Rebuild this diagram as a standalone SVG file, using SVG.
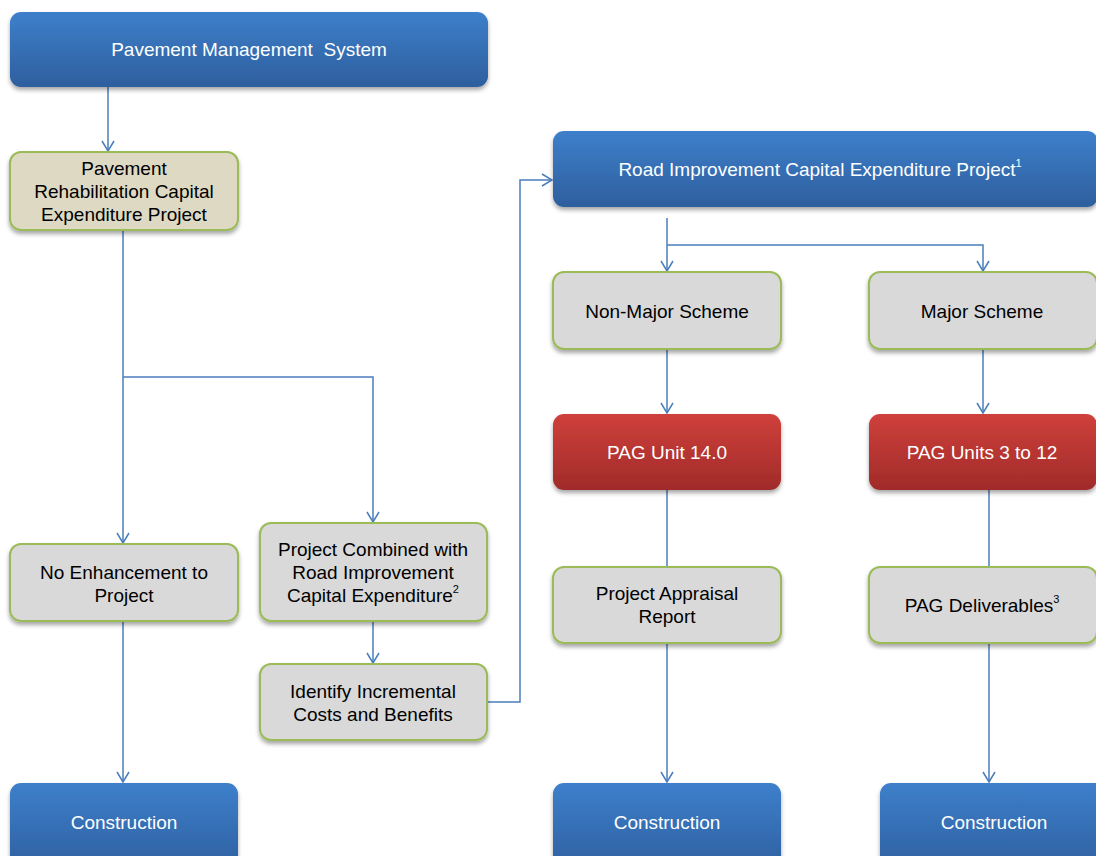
<svg xmlns="http://www.w3.org/2000/svg" width="1096" height="856" viewBox="0 0 1096 856">
<defs>
<linearGradient id="gBlue" x1="0" y1="0" x2="0" y2="1">
<stop offset="0" stop-color="#3d7fcb"/><stop offset="1" stop-color="#2e5f9e"/>
</linearGradient>
<linearGradient id="gRed" x1="0" y1="0" x2="0" y2="1">
<stop offset="0" stop-color="#cf403b"/><stop offset="1" stop-color="#a02b29"/>
</linearGradient>
<filter id="sh" x="-10%" y="-20%" width="120%" height="150%">
<feDropShadow dx="0" dy="3" stdDeviation="2.2" flood-color="#000" flood-opacity="0.35"/>
</filter>
<marker id="arr" viewBox="0 0 12 14" refX="11" refY="7" markerWidth="12" markerHeight="14" markerUnits="userSpaceOnUse" orient="auto">
<path d="M1,1 L11,7 L1,13" fill="none" stroke="#4a7ebb" stroke-width="1.5"/>
</marker>
</defs>
<style>
.blue{fill:url(#gBlue);filter:url(#sh)}
.red{fill:url(#gRed);filter:url(#sh)}
.gray{fill:#d9d9d9;stroke:#9bbb59;stroke-width:2;filter:url(#sh)}
.tan{fill:#ddd9c3;stroke:#9bbb59;stroke-width:2;filter:url(#sh)}
text{font-family:"Liberation Sans",Arial,sans-serif;font-size:19px;text-anchor:middle;dominant-baseline:central}
.w{fill:#ffffff}
.k{fill:#000000}
.c{fill:none;stroke:#4a7ebb;stroke-width:1.5}
.sup{font-size:11px}
</style>
<rect width="1096" height="856" fill="#ffffff"/>

<g id="connectors">
<path class="c" d="M108,87 V151" marker-end="url(#arr)"/>
<path class="c" d="M123,230 V543" marker-end="url(#arr)"/>
<path class="c" d="M123,377 H373 V522" marker-end="url(#arr)"/>
<path class="c" d="M123,621 V782" marker-end="url(#arr)"/>
<path class="c" d="M373,621 V663" marker-end="url(#arr)"/>
<path class="c" d="M487,702 H520 V180 H552" marker-end="url(#arr)"/>
<path class="c" d="M667,218 V271" marker-end="url(#arr)"/>
<path class="c" d="M667,245 H983 V271" marker-end="url(#arr)"/>
<path class="c" d="M667,349 V413" marker-end="url(#arr)"/>
<path class="c" d="M983,349 V413" marker-end="url(#arr)"/>
<path class="c" d="M667,490 V567"/>
<path class="c" d="M989,490 V567"/>
<path class="c" d="M667,643 V782" marker-end="url(#arr)"/>
<path class="c" d="M989,643 V782" marker-end="url(#arr)"/>
</g>

<g id="pms">
<rect class="blue" x="10" y="12" width="478" height="75" rx="11"/>
<text class="w" x="249" y="49" xml:space="preserve">Pavement Management  System</text>
</g>

<g id="rehab">
<rect class="tan" x="10" y="152" width="228" height="78" rx="11"/>
<text class="k" x="124" y="168">Pavement</text>
<text class="k" x="124" y="191">Rehabilitation Capital</text>
<text class="k" x="124" y="214">Expenditure Project</text>
</g>

<g id="noenh">
<rect class="gray" x="10" y="544" width="228" height="77" rx="11"/>
<text class="k" x="124" y="572">No Enhancement to</text>
<text class="k" x="124" y="595">Project</text>
</g>

<g id="combined">
<rect class="gray" x="260" y="523" width="227" height="98" rx="11"/>
<text class="k" x="373" y="549">Project Combined with</text>
<text class="k" x="373" y="572">Road Improvement</text>
<text class="k" x="373" y="595">Capital Expenditure<tspan class="sup" dy="-6">2</tspan></text>
</g>

<g id="identify">
<rect class="gray" x="260" y="664" width="227" height="76" rx="11"/>
<text class="k" x="373" y="691">Identify Incremental</text>
<text class="k" x="373" y="714">Costs and Benefits</text>
</g>

<g id="road">
<rect class="blue" x="553" y="131" width="545" height="76" rx="11"/>
<text class="w" x="820" y="169">Road Improvement Capital Expenditure Project<tspan class="sup" dy="-6">1</tspan></text>
</g>

<g id="nonmajor">
<rect class="gray" x="553" y="272" width="228" height="77" rx="11"/>
<text class="k" x="667" y="311">Non-Major Scheme</text>
</g>

<g id="major">
<rect class="gray" x="869" y="272" width="228" height="77" rx="11"/>
<text class="k" x="982" y="311">Major Scheme</text>
</g>

<g id="pag14">
<rect class="red" x="553" y="414" width="228" height="76" rx="11"/>
<text class="w" x="667" y="452">PAG Unit 14.0</text>
</g>

<g id="pag312">
<rect class="red" x="869" y="414" width="228" height="76" rx="11"/>
<text class="w" x="982" y="452">PAG Units 3 to 12</text>
</g>

<g id="par">
<rect class="gray" x="553" y="567" width="228" height="76" rx="11"/>
<text class="k" x="667" y="593">Project Appraisal</text>
<text class="k" x="667" y="616">Report</text>
</g>

<g id="deliv">
<rect class="gray" x="869" y="567" width="228" height="76" rx="11"/>
<text class="k" x="982" y="605">PAG Deliverables<tspan class="sup" dy="-6">3</tspan></text>
</g>

<g id="cons1">
<rect class="blue" x="10" y="783" width="228" height="90" rx="11"/>
<text class="w" x="124" y="822">Construction</text>
</g>

<g id="cons2">
<rect class="blue" x="553" y="783" width="228" height="90" rx="11"/>
<text class="w" x="667" y="822">Construction</text>
</g>

<g id="cons3">
<rect class="blue" x="880" y="783" width="228" height="90" rx="11"/>
<text class="w" x="994" y="822">Construction</text>
</g>
</svg>
